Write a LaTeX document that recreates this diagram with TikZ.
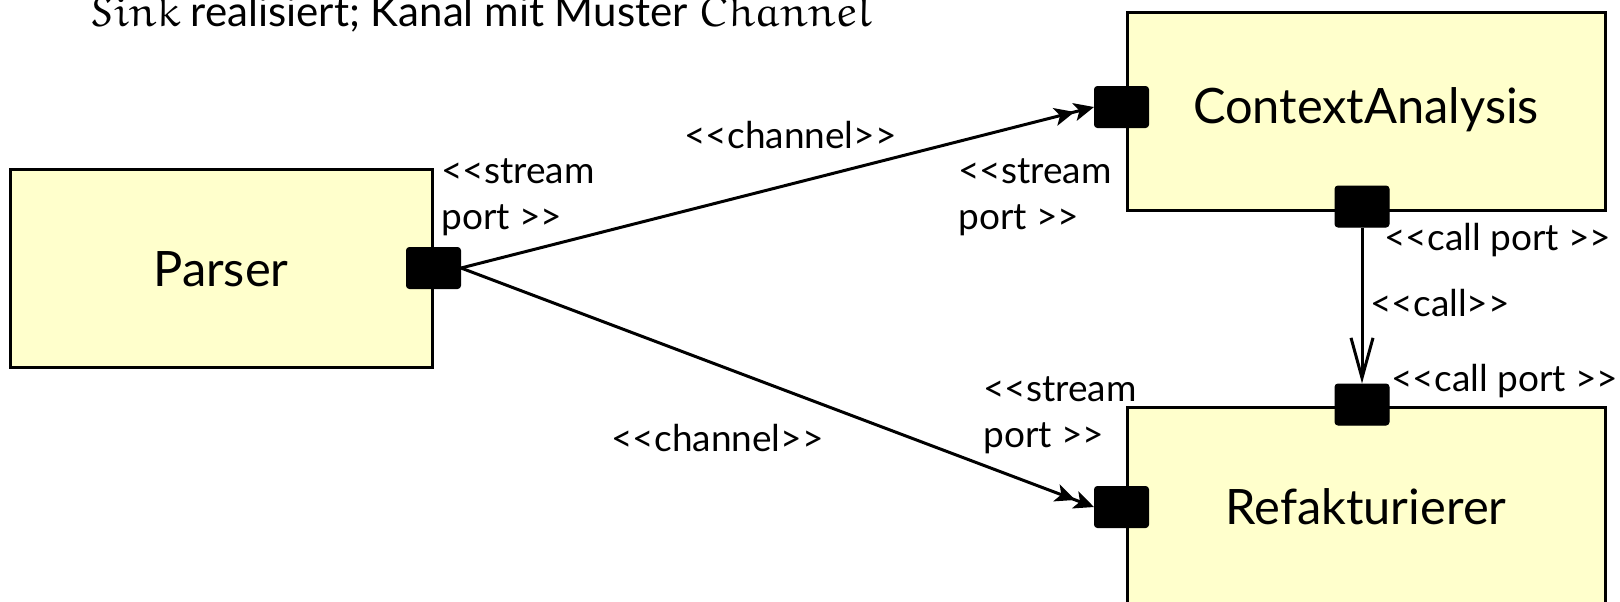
\documentclass[tikz,border=0pt]{standalone}
\usepackage{fontspec}
\setmainfont{Lato}[Ligatures=TeXOff]
\usetikzlibrary{arrows.meta}
\DeclareFontFamily{U}{myeur}{}
\DeclareFontShape{U}{myeur}{m}{n}{<->eurm10}{}
\newcommand\eul[1]{{\usefont{U}{myeur}{m}{n}#1}}
\definecolor{boxfill}{HTML}{FFFFCC}
\tikzset{
  comp/.style={draw, line width=1.5pt, fill=boxfill, minimum width=211pt, minimum height=99pt, inner sep=0pt, text depth=0pt, font=\fontsize{24.4}{28}\selectfont},
  portbox/.style={draw, fill=black, line width=0.5pt, rounded corners=1.5pt, minimum width=27pt, minimum height=20.5pt, inner sep=0pt},
  lbl/.style={anchor=base west, inner sep=0pt, align=left, font=\fontsize{18.5}{23}\selectfont},
  stream/.style={line width=1.5pt, -{Stealth[length=10pt,width=9pt,inset=2.5pt] Stealth[length=10pt,width=9pt,inset=2.5pt]}},
  callline/.style={line width=1.5pt, -{Straight Barb[length=20pt,width=11pt,line width=1.5pt]}},
}
\begin{document}
\begin{tikzpicture}[x=0.5pt,y=-0.5pt]
\useasboundingbox (0,0) rectangle (1620,601);
\clip (0,0) rectangle (1620,601);
% title
\node[anchor=base west, inner sep=0pt, font=\fontsize{21}{24}\selectfont] (title) at (90,26)
  {\eul{Sink} realisiert; Kanal mit Muster \eul{Channel}};
% components
\node[comp, text height=18pt] (parser) at (221,268) {Parser};
\node[comp, text height=12pt, minimum width=239pt] (ca) at (1366,111) {ContextAnalysis};
\node[comp, text height=18pt, minimum width=239pt] (ref) at (1366,506) {Refakturierer};
% ports
\node[portbox] (pp) at (433.5,268) {};
\node[portbox] (cap) at (1121.5,107) {};
\node[portbox] (cbp) at (1362,206.5) {};
\node[portbox] (rtp) at (1362,404.5) {};
\node[portbox] (rlp) at (1121.5,507) {};
% connectors
\draw[stream] (pp.east) -- (cap.west);
\draw[stream] (pp.east) -- (rlp.west);
\draw[callline] (cbp.south) -- (rtp.north);
% labels
\node[lbl] (l1) at (441,229) {<<stream\\port >>};
\node[lbl] (l2) at (958,229) {<<stream\\port >>};
\node[lbl] (l3) at (983,447) {<<stream\\port >>};
\node[lbl] (l4) at (1384,250) {<<call port >>};
\node[lbl] (l5) at (1370,316) {<<call>>};
\node[lbl] (l6) at (1391,391) {<<call port >>};
\node[lbl] (l7) at (684,148) {<<channel>>};
\node[lbl] (l8) at (611,451) {<<channel>>};
\end{tikzpicture}
\end{document}
